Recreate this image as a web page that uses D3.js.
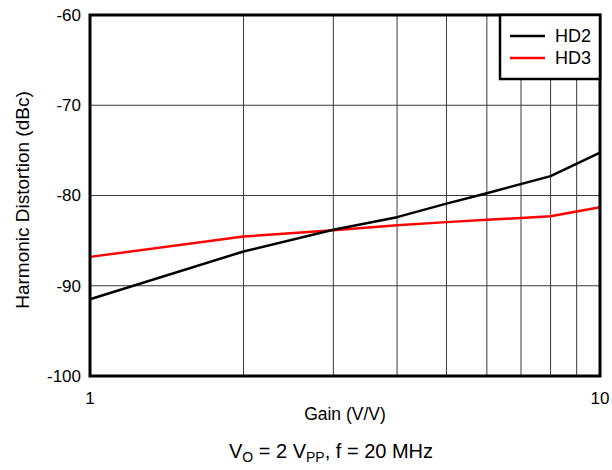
<!DOCTYPE html>
<html>
<head>
<meta charset="utf-8">
<script src="https://cdn.jsdelivr.net/npm/d3@7"></script>
<style>
  html, body { margin: 0; padding: 0; background: #fff; }
  svg { display: block; font-family: "Liberation Sans", Arial, sans-serif; }
</style>
</head>
<body>
<svg id="chart" width="612" height="470"></svg>
<script>
// Data
const gain = [1, 2, 3, 4, 5, 6, 8, 10];
const hd2 = [-91.5, -86.2, -83.8, -82.4, -80.9, -79.75, -77.85, -75.25];
const hd3 = [-86.8, -84.55, -83.85, -83.3, -82.95, -82.7, -82.3, -81.3];
const seriesNames = ["HD2", "HD3"];
const seriesColors = ["#000000", "#ff0000"];
const yTicks = [-100, -90, -80, -70, -60];
const xTickLabels = [1, 10];
const xGrid = [2, 3, 4, 5, 6, 7, 8, 9];

const svg = d3.select("#chart");
const L = 90, R = 600, T = 15, B = 376;

const x = d3.scaleLog().domain([1, 10]).range([L, R]);
const y = d3.scaleLinear().domain([-100, -60]).range([B, T]);

// grid
const g = svg.append("g");
g.selectAll("line.vg").data(xGrid).enter().append("line")
  .attr("x1", d => x(d)).attr("x2", d => x(d))
  .attr("y1", T).attr("y2", B)
  .attr("stroke", "#3a3a3a").attr("stroke-width", 1);
g.selectAll("line.hg").data(yTicks.slice(1, -1)).enter().append("line")
  .attr("x1", L).attr("x2", R)
  .attr("y1", d => y(d)).attr("y2", d => y(d))
  .attr("stroke", "#3a3a3a").attr("stroke-width", 1);

// series
const line = d3.line().x(d => x(d[0])).y(d => y(d[1]));
[hd3, hd2].forEach((s, i) => {
  const idx = i === 0 ? 1 : 0;
  svg.append("path")
    .datum(gain.map((gv, k) => [gv, s[k]]))
    .attr("d", line)
    .attr("fill", "none")
    .attr("stroke", seriesColors[idx])
    .attr("stroke-width", 2.5)
    .attr("stroke-linejoin", "round");
});

// frame
svg.append("rect").attr("x", L).attr("y", T).attr("width", R - L).attr("height", B - T)
  .attr("fill", "none").attr("stroke", "#000").attr("stroke-width", 3);

// y tick labels
svg.append("g").selectAll("text").data(yTicks).enter().append("text")
  .attr("x", L - 9).attr("y", d => y(d))
  .attr("dy", "0.35em")
  .attr("text-anchor", "end")
  .attr("font-size", 17)
  .text(d => d);

// x tick labels
svg.append("g").selectAll("text").data(xTickLabels).enter().append("text")
  .attr("x", d => x(d)).attr("y", B + 28)
  .attr("text-anchor", "middle")
  .attr("font-size", 17)
  .text(d => d);

// axis titles
svg.append("text").attr("x", 345).attr("y", 420)
  .attr("text-anchor", "middle").attr("font-size", 17.5)
  .text("Gain (V/V)");

svg.append("text")
  .attr("transform", "translate(29,200) rotate(-90)")
  .attr("text-anchor", "middle").attr("font-size", 19)
  .text("Harmonic Distortion (dBc)");

// subtitle
const sub = svg.append("text").attr("x", 331).attr("y", 458)
  .attr("text-anchor", "middle").attr("font-size", 20);
sub.append("tspan").text("V");
sub.append("tspan").attr("font-size", 14).attr("dy", 4).text("O");
sub.append("tspan").attr("dy", -4).text(" = 2 V");
sub.append("tspan").attr("font-size", 14).attr("dy", 4).text("PP");
sub.append("tspan").attr("dy", -4).text(", f = 20 MHz");

// legend
const lg = svg.append("g");
lg.append("rect").attr("x", 500).attr("y", T).attr("width", R - 500).attr("height", 64)
  .attr("fill", "#fff").attr("stroke", "#000").attr("stroke-width", 2.5);
seriesNames.forEach((n, i) => {
  const yy = 36 + i * 22;
  lg.append("line").attr("x1", 510).attr("x2", 545).attr("y1", yy).attr("y2", yy)
    .attr("stroke", seriesColors[i]).attr("stroke-width", 2.5);
  lg.append("text").attr("x", 555).attr("y", yy).attr("dy", "0.35em")
    .attr("font-size", 18).text(n);
});
</script>
</body>
</html>
